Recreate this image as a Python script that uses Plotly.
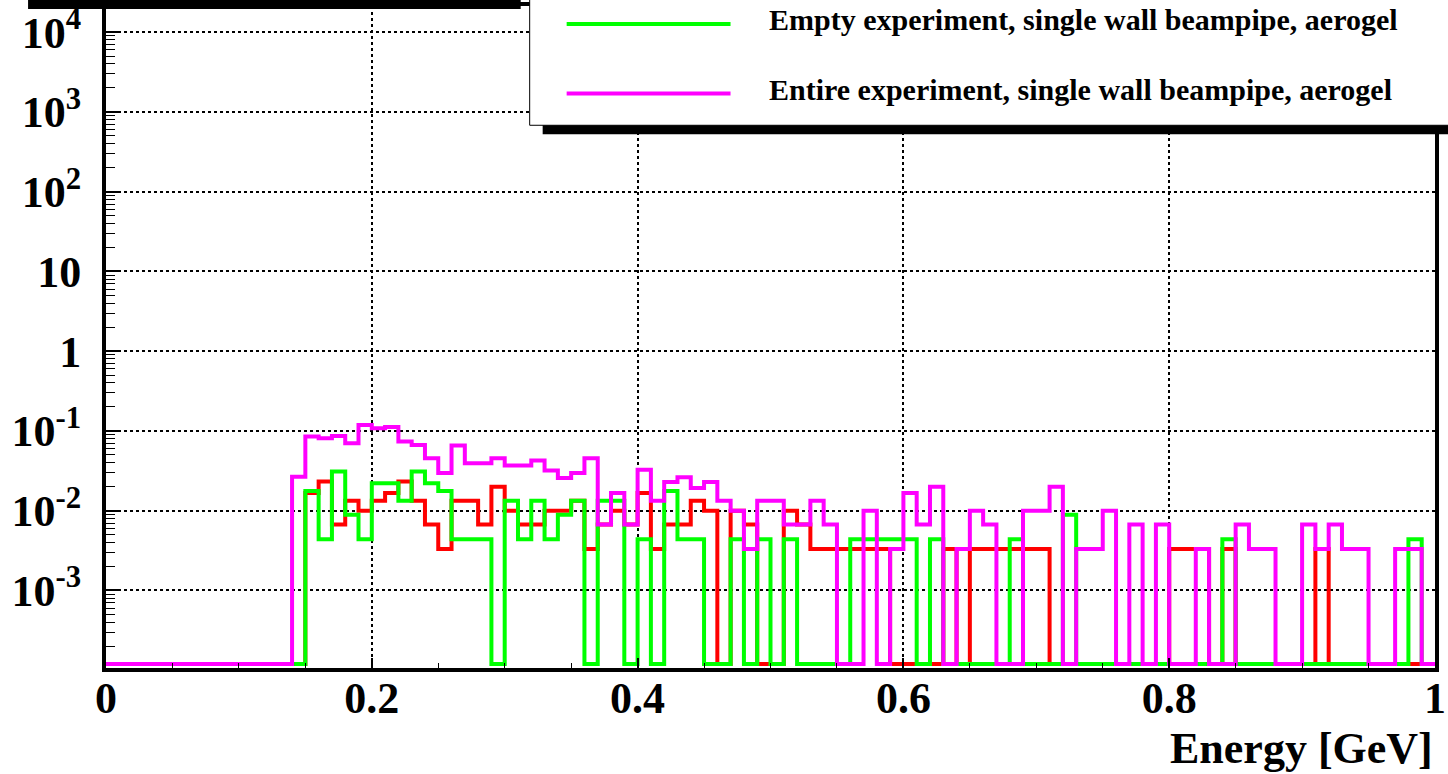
import numpy as np
import plotly.graph_objects as go

# ---------------- data (100 bins, 0..1 GeV, width 0.01) ----------------
BIN_EDGES = [round(i * 0.01, 2) for i in range(101)]

RED = [0]*15 + [
    0.0167, 0.0233, 0.0067, 0.0133, 0.01, 0.0133, 0.0167, 0.0233, 0.0133, 0.0067,   # 15-24
    0.0033, 0.0133, 0.0133, 0.0067, 0.02, 0.01, 0.0067, 0.0067, 0.01, 0.01,         # 25-34
    0.0133, 0.0033, 0.0067, 0.01, 0.0067, 0.0167, 0.0033, 0.0067, 0.0067, 0.0133,   # 35-44
    0.01, 0, 0.01, 0.0067, 0, 0, 0.01, 0.0067, 0.0033, 0.0033,                       # 45-54
    0.0033, 0.0033, 0.0033, 0.0033, 0, 0, 0, 0, 0.0033, 0,                           # 55-64
    0.0033, 0.0033, 0.0033, 0.0033, 0.0033, 0.0033, 0, 0, 0, 0,                     # 65-74
    0, 0, 0, 0, 0, 0.0033, 0.0033, 0.0033, 0, 0.0033,                               # 75-84
    0, 0, 0, 0, 0, 0, 0.0033, 0, 0, 0,                                              # 85-94
    0, 0, 0, 0, 0]                                                                  # 95-99

GREEN = [0]*15 + [
    0.0177, 0.0044, 0.031, 0.0089, 0.0044, 0.0221, 0.0221, 0.0133, 0.031, 0.0221,   # 15-24
    0.0177, 0.0044, 0.0044, 0.0044, 0, 0.0133, 0.0044, 0.0133, 0.0044, 0.0089,      # 25-34
    0.0133, 0, 0.0133, 0.0133, 0, 0.0044, 0, 0.0177, 0.0044, 0.0044,                # 35-44
    0, 0, 0.0044, 0, 0.0044, 0, 0.0044, 0, 0, 0,                                    # 45-54
    0, 0.0044, 0.0044, 0.0044, 0.0044, 0.0044, 0, 0.0044, 0, 0,                     # 55-64
    0, 0, 0, 0.0044, 0, 0, 0, 0.0089, 0, 0,                                         # 65-74
    0, 0, 0, 0, 0, 0, 0, 0, 0, 0.0044,                                              # 75-84
    0, 0, 0, 0, 0, 0, 0, 0, 0, 0,                                                   # 85-94
    0, 0, 0, 0.0044, 0]                                                             # 95-99

MAGENTA = [0]*14 + [
    0.0267,                                                                          # 14
    0.085, 0.081, 0.0866, 0.070, 0.119, 0.108, 0.112, 0.0736, 0.0669, 0.0456,       # 15-24
    0.0297, 0.0656, 0.0395, 0.0395, 0.0456, 0.037, 0.037, 0.0427, 0.032, 0.0257,    # 25-34
    0.0297, 0.0456, 0.0067, 0.0167, 0.0067, 0.0327, 0.0133, 0.0229, 0.0262, 0.0193, # 35-44
    0.0229, 0.0133, 0.01, 0.0033, 0.0133, 0.0133, 0.0067, 0.0067, 0.0133, 0.0067,   # 45-54
    0, 0, 0.01, 0, 0.0033, 0.0167, 0.0067, 0.02, 0, 0.0033,                         # 55-64
    0.01, 0.0067, 0, 0, 0.01, 0.01, 0.02, 0, 0.0033, 0.0033,                        # 65-74
    0.01, 0, 0.0067, 0, 0.0067, 0, 0, 0.0033, 0, 0,                                 # 75-84
    0.0067, 0.0033, 0.0033, 0, 0, 0.0067, 0.0033, 0.0067, 0.0033, 0.0033,           # 85-94
    0, 0, 0.0033, 0.0033, 0]                                                        # 95-99

LEGEND_LABELS = ["Empty experiment, single wall beampipe, aerogel",
                 "Entire experiment, single wall beampipe, aerogel"]

Y_TICKVALS = [1e-3, 1e-2, 1e-1, 1, 10, 1e2, 1e3, 1e4]
Y_TICKTEXT = ["10<sup>-3</sup>", "10<sup>-2</sup>", "10<sup>-1</sup>", "1", "10",
              "10<sup>2</sup>", "10<sup>3</sup>", "10<sup>4</sup>"]
X_TICKVALS = [0, 0.2, 0.4, 0.6, 0.8, 1.0]
X_TICKTEXT = ["0", "0.2", "0.4", "0.6", "0.8", "1"]

ZERO_FLOOR = 1.2e-4   # empty bins drawn at frame bottom (log axis)

# ---------------- figure ----------------
W, H = 1448, 774
ML, MR, MT, MB = 106, 12, 2, 106
FONT = "Liberation Serif"


def px2x(p):
    return (p - ML) / (W - ML - MR)


def py2y(p):
    return (H - MB - p) / (H - MT - MB)


def step(vals):
    v = [x if x > 0 else ZERO_FLOOR for x in vals]
    return BIN_EDGES, v + [v[-1]]


fig = go.Figure()
for vals, col in [(RED, "#ff0000"), (GREEN, "#00ff00"), (MAGENTA, "#ff00ff")]:
    xs, ys = step(vals)
    fig.add_trace(go.Scatter(x=xs, y=ys, mode="lines", line=dict(color=col, width=4, shape="hv"),
                             showlegend=False, hoverinfo="skip"))

minor_y = [m * 10.0 ** e for e in range(-4, 5) for m in range(2, 10)]

fig.update_layout(
    width=W, height=H,
    margin=dict(l=ML, r=MR, t=MT, b=MB),
    paper_bgcolor="white", plot_bgcolor="white",
    font=dict(family=FONT, color="black"),
    xaxis=dict(range=[0, 1], tickmode="array", tickvals=X_TICKVALS, ticktext=X_TICKTEXT,
               ticks="inside", ticklen=10, tickwidth=1.5, tickcolor="black",
               tickfont=dict(family=FONT, size=44, weight="bold", color="black"),
               ticklabelstandoff=-12,
               showline=True, linewidth=4, linecolor="black", mirror=True,
               showgrid=True, gridcolor="black", griddash="dot", gridwidth=1.5,
               zeroline=False,
               minor=dict(tickmode="linear", tick0=0, dtick=0.05, ticks="inside", ticklen=5,
                          tickcolor="black", tickwidth=1, showgrid=False)),
    yaxis=dict(type="log", range=[-3.972, 4.328], tickmode="array", tickvals=Y_TICKVALS,
               ticktext=Y_TICKTEXT, ticks="inside", ticklen=14, tickwidth=1.5, tickcolor="black",
               tickfont=dict(family=FONT, size=44, weight="bold", color="black"),
               ticklabelstandoff=12,
               showline=True, linewidth=4, linecolor="black", mirror=True,
               showgrid=True, gridcolor="black", griddash="dot", gridwidth=1.5,
               zeroline=False,
               minor=dict(tickmode="array", tickvals=minor_y, ticks="inside", ticklen=9,
                          tickcolor="black", tickwidth=1, showgrid=False)),
)

shapes = []
# title-box shadow bar at top-left
shapes.append(dict(type="rect", xref="paper", yref="paper", x0=px2x(28), x1=px2x(521),
                   y0=py2y(5), y1=py2y(-5), fillcolor="black", line=dict(width=0), layer="above"))
# legend shadow + box
shapes.append(dict(type="rect", xref="paper", yref="paper", x0=px2x(543), x1=px2x(1470),
                   y0=py2y(131), y1=py2y(-10), fillcolor="black", line=dict(width=0), layer="above"))
shapes.append(dict(type="rect", xref="paper", yref="paper", x0=px2x(530), x1=px2x(1460),
                   y0=py2y(122), y1=py2y(-20), fillcolor="white", line=dict(color="black", width=1),
                   layer="above"))
annotations = []
for label, col, yp in [(LEGEND_LABELS[0], "#00ff00", 20), (LEGEND_LABELS[1], "#ff00ff", 90)]:
    shapes.append(dict(type="line", xref="paper", yref="paper", x0=px2x(567), x1=px2x(731),
                       y0=py2y(yp), y1=py2y(yp), line=dict(color=col, width=4), layer="above"))
    annotations.append(dict(x=px2x(767), y=py2y(yp - 4), xref="paper", yref="paper", text=label,
                            showarrow=False, xanchor="left", yanchor="middle",
                            font=dict(family=FONT, size=30, weight="bold", color="black")))

annotations.append(dict(x=px2x(1436), y=py2y(749), xref="paper", yref="paper", text="Energy [GeV]",
                        showarrow=False, xanchor="right", yanchor="middle",
                        font=dict(family=FONT, size=44, weight="bold", color="black")))

fig.update_layout(shapes=shapes, annotations=annotations)
fig.write_html("out.html", post_script="document.body.style.margin='0px';",
               config={"displayModeBar": False})
